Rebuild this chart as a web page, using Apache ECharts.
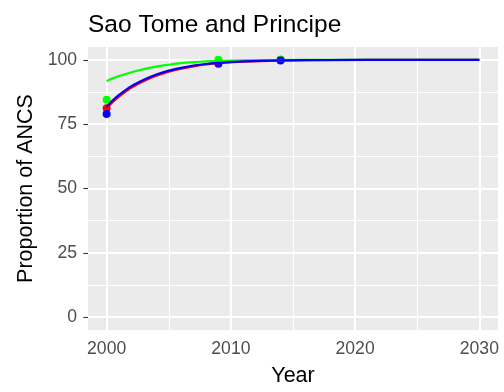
<!DOCTYPE html>
<html>
<head>
<meta charset="utf-8">
<script src="https://cdn.jsdelivr.net/npm/echarts@6/dist/echarts.min.js"></script>
<style>
html,body{margin:0;padding:0;background:#fff;}
#chart{width:504px;height:392px;}
</style>
</head>
<body>
<div id="chart"></div>
<script>
const title = "Sao Tome and Principe";
const xTickLabels = [2000, 2010, 2020, 2030];
const xMinorBreaks = [2005, 2015, 2025];
const yTickLabels = [0, 25, 50, 75, 100];
const yMinorBreaks = [12.5, 37.5, 62.5, 87.5];

const curveYears = [2000, 2000.5, 2001, 2002, 2003, 2004, 2005, 2006, 2007, 2008, 2009, 2011, 2014, 2018, 2024, 2030];
const redCurve   = [81.0, 83.6, 85.7, 89.2, 91.8, 93.8, 95.4, 96.6, 97.5, 98.2, 98.7, 99.3, 99.7, 99.93, 100, 100];
const greenCurve = [91.8, 92.8, 93.7, 95.2, 96.4, 97.4, 98.1, 98.7, 99.1, 99.4, 99.6, 99.8, 99.93, 99.98, 100, 100];
const blueCurve  = [81.8, 84.3, 86.4, 89.8, 92.3, 94.3, 95.8, 96.9, 97.8, 98.4, 98.8, 99.4, 99.8, 99.95, 100, 100];

const pointYears = [2000, 2009, 2014];
const redPoints   = [81.2, 99.0, 100];
const greenPoints = [84.5, 100, 100];
const bluePoints  = [79.0, 98.5, 99.8];

const FONT = "Liberation Sans";
const zip = (xs, ys) => xs.map((x, i) => [x, ys[i]]);

function lineSeries(ys, color, z) {
  return { type: 'line', data: zip(curveYears, ys), showSymbol: false, smooth: 0.3,
    lineStyle: { color: color, width: 2.2 }, itemStyle: { color: color }, z: z, silent: true };
}
function pointSeries(ys, color, z) {
  return { type: 'scatter', data: zip(pointYears, ys), symbol: 'circle', symbolSize: 8,
    itemStyle: { color: color, opacity: 1 }, z: z, silent: true };
}

const majorStyle = { color: '#ffffff', width: 2.1, type: 'solid' };
const minorStyle = { color: '#ffffff', width: 1.1, type: 'solid' };
const xMajorLines = xTickLabels.map(v => ({ xAxis: v, lineStyle: majorStyle }));
const xMinorLines = xMinorBreaks.map(v => ({ xAxis: v, lineStyle: minorStyle }));
const yMajorLines = yTickLabels.map(v => ({ yAxis: v, lineStyle: majorStyle }));
const yMinorLines = yMinorBreaks.map(v => ({ yAxis: v, lineStyle: minorStyle }));

const chart = echarts.init(document.getElementById('chart'), null, { renderer: 'canvas' });
chart.setOption({
  animation: false,
  backgroundColor: '#ffffff',
  textStyle: { fontFamily: FONT },
  title: { text: title, left: 83, top: 8,
    textStyle: { fontFamily: FONT, fontSize: 24.5, fontWeight: 'normal', color: '#000000' } },
  grid: { left: 88, right: 6, top: 47, bottom: 58, show: true, backgroundColor: '#EBEBEB', borderWidth: 0, containLabel: false },
  xAxis: {
    type: 'value', min: 1998.5, max: 2031.5,
    name: 'Year', nameLocation: 'middle', nameGap: 35,
    nameTextStyle: { fontFamily: FONT, fontSize: 21.5, color: '#000000' },
    axisLine: { show: false },
    axisTick: { show: true, length: 4.6, lineStyle: { color: '#333333', width: 1.1 }, customValues: xTickLabels },
    axisLabel: { show: true, customValues: xTickLabels, margin: 10.5, fontFamily: FONT, fontSize: 17.6, color: '#4D4D4D',
      formatter: v => String(v) },
    splitLine: { show: false }
  },
  yAxis: {
    type: 'value', min: -5, max: 105,
    name: 'Proportion of ANCS', nameLocation: 'middle', nameGap: 43,
    nameTextStyle: { fontFamily: FONT, fontSize: 21.5, color: '#000000' },
    axisLine: { show: false },
    axisTick: { show: true, length: 4.6, lineStyle: { color: '#333333', width: 1.1 }, customValues: yTickLabels },
    axisLabel: { show: true, customValues: yTickLabels, margin: 11, fontFamily: FONT, fontSize: 17.6, color: '#4D4D4D',
      formatter: v => String(v) },
    splitLine: { show: false }
  },
  series: [
    { type: 'line', data: [], z: 1, silent: true,
      markLine: { z: 1, silent: true, symbol: 'none', label: { show: false }, animation: false,
        data: [...xMinorLines, ...yMinorLines, ...xMajorLines, ...yMajorLines] } },
    pointSeries(redPoints, '#FF0000', 10),
    pointSeries(greenPoints, '#00FF00', 11),
    pointSeries(bluePoints, '#0000FF', 12),
    lineSeries(redCurve, '#FF0000', 13),
    lineSeries(greenCurve, '#00FF00', 14),
    lineSeries(blueCurve, '#0000FF', 15)
  ]
});
</script>
</body>
</html>
